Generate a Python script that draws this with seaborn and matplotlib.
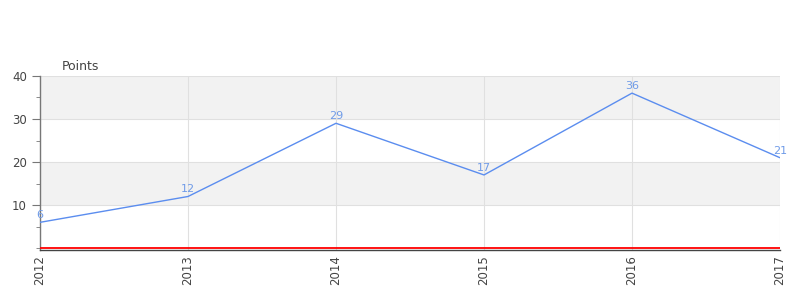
import matplotlib
matplotlib.use("Agg")
import matplotlib.pyplot as plt
import seaborn as sns
import pandas as pd
from matplotlib.ticker import MultipleLocator

years = ["2012", "2013", "2014", "2015", "2016", "2017"]
points = [6, 12, 29, 17, 36, 21]

sns.set_style("white")
plt.rcParams["font.family"] = ["DejaVu Sans"]

df = pd.DataFrame({"x": range(len(years)), "Points": points})

fig = plt.figure(figsize=(8, 3), dpi=100)
ax = fig.add_axes([0.05, 0.167, 0.925, 0.58])

# bands
for lo, hi in [(10, 20), (30, 40)]:
    ax.axhspan(lo, hi, color="#f2f2f2", zorder=0, lw=0)
for y in [10, 20, 30, 40]:
    ax.axhline(y, color="#e0e0e0", lw=0.8, zorder=1)
for i in range(len(years)):
    ax.axvline(i, color="#e0e0e0", lw=0.8, zorder=1)

sns.lineplot(data=df, x="x", y="Points", ax=ax, color="#5b8def", lw=1.0, zorder=3)
for i, v in enumerate(points):
    ax.annotate(str(v), (i, v), xytext=(0, 1.5), textcoords="offset points",
                ha="center", va="bottom", color="#6f9be8", fontsize=8, zorder=4,
                annotation_clip=False)

ax.axhline(0.05, color="#ff0000", lw=1.3, zorder=3)

ax.set_xlim(0, len(years) - 1)
ax.set_ylim(-0.4, 40)
ax.set_xticks(range(len(years)))
ax.set_xticklabels(years, rotation=90, fontsize=8.5, color="#444444")
ax.set_yticks([10, 20, 30, 40])
ax.yaxis.set_minor_locator(MultipleLocator(5))
ax.tick_params(axis="y", which="major", length=6, color="#777777", labelsize=8.5, labelcolor="#444444", left=True)
ax.tick_params(axis="y", which="minor", length=3, color="#777777", left=True)
ax.tick_params(axis="x", length=0, pad=4)
ax.set_xlabel("")
ax.set_ylabel("")

for s in ["top", "right"]:
    ax.spines[s].set_visible(False)
ax.spines["left"].set_color("#777777")
ax.spines["left"].set_linewidth(1)
ax.spines["bottom"].set_color("#444444")
ax.spines["bottom"].set_linewidth(1)

fig.text(62 / 800, 1 - 66 / 300, "Points", fontsize=9, color="#444444", va="center", ha="left")

fig.savefig("out.png", dpi=100)
